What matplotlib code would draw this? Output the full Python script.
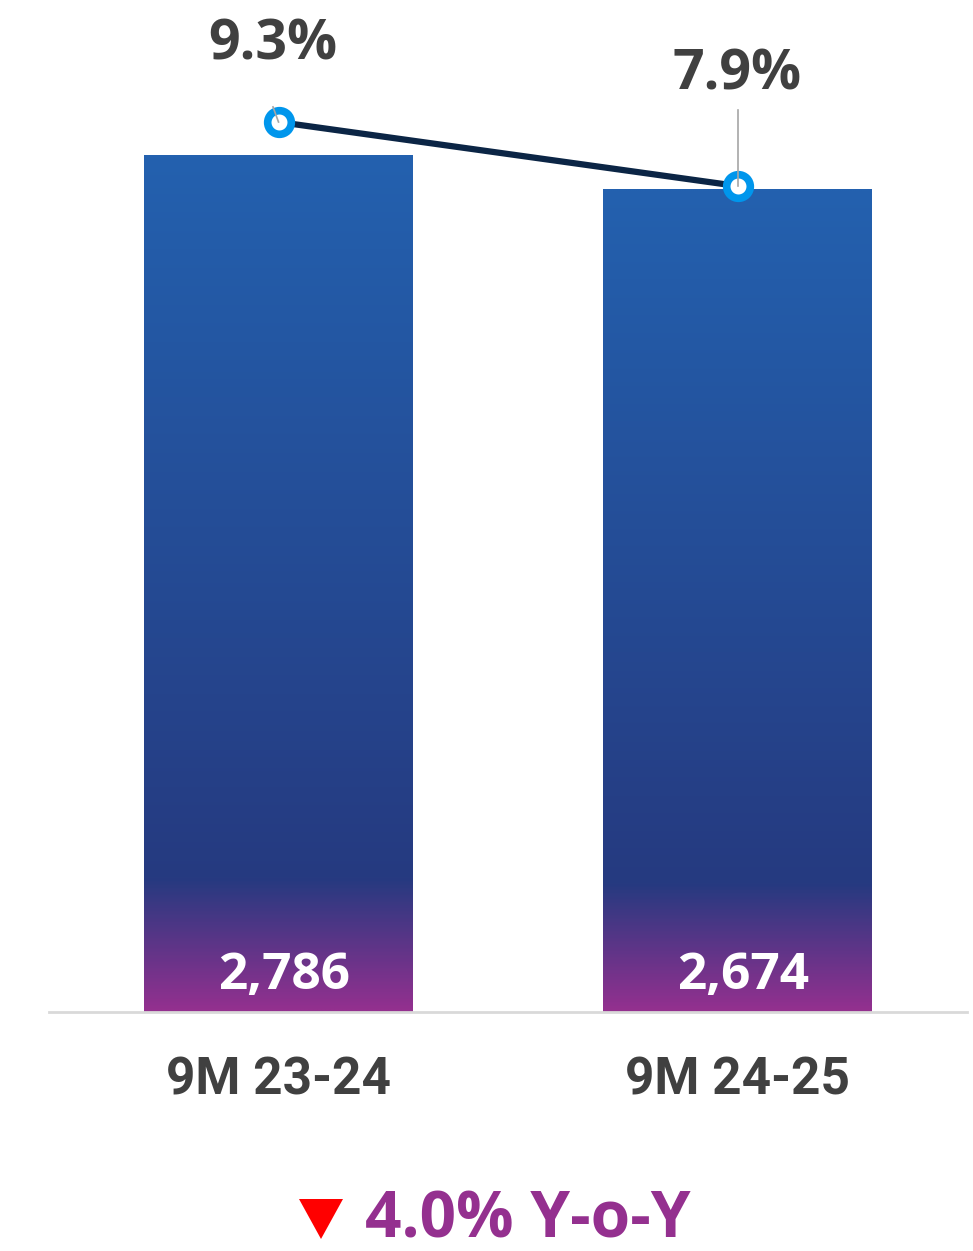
import numpy as np
import matplotlib
matplotlib.use("Agg")
import matplotlib.pyplot as plt
from matplotlib.colors import LinearSegmentedColormap
from matplotlib.patches import Polygon

categories = ["9M 23-24", "9M 24-25"]
values = [2786, 2674]
value_labels = ["2,786", "2,674"]
margins = [9.3, 7.9]
margin_labels = ["9.3%", "7.9%"]
yoy_text = "4.0% Y-o-Y"

W, H = 973, 1251
fig = plt.figure(figsize=(W / 100, H / 100), dpi=100)
ax_left, ax_right = 49 / W, 967 / W
ax_bottom = 1 - 1012 / H
ax_top = 1.0
ax = fig.add_axes([ax_left, ax_bottom, ax_right - ax_left, ax_top - ax_bottom])

x = np.arange(len(categories))
bars = ax.bar(x, values, width=0.584, color="none", edgecolor="none", zorder=2)
ymax = 1012 / (857 / 2786)

cmap = LinearSegmentedColormap.from_list(
    "g",
    [(0.0, "#94308F"), (0.154, "#263A80"), (1.0, "#2361AF")],
)
for b in bars:
    x0 = b.get_x()
    w = b.get_width()
    h = b.get_height()
    grad = np.linspace(0, 1, 512).reshape(-1, 1)
    im = ax.imshow(grad, aspect="auto", cmap=cmap, origin="lower",
                   extent=[x0, x0 + w, 0, h], zorder=2, interpolation="bilinear")
    im.set_clip_path(b)
ax.set_xlim(-0.5, 1.5)
ax.set_ylim(0, ymax)

for xi, v, lab in zip(x, values, value_labels):
    ax.text(xi + 0.013, 118, lab, ha="center", va="center", color="white",
            fontsize=37, fontweight="bold", family="Open Sans", zorder=5)

for s in ["top", "right", "left"]:
    ax.spines[s].set_visible(False)
ax.spines["bottom"].set_color("#d9d9d9")
ax.spines["bottom"].set_linewidth(2)
ax.set_yticks([])
ax.set_xticks(x)
ax.set_xticklabels(categories, fontsize=37, fontweight="bold", family="Roboto",
                   color="#404040")
ax.tick_params(axis="x", length=0, pad=31)

# secondary axis
ax2 = ax.twinx()
ppu = 64 / 1.4
zero_px = 122 + 9.3 * ppu
ax2.set_ylim((zero_px - 1012) / ppu, zero_px / ppu)
ax2.set_xlim(-0.5, 1.5)
ax2.axis("off")
ax2.plot(x, margins, color="#0B2545", lw=4.5, zorder=3,
         marker="o", markersize=17, markerfacecolor="white",
         markeredgecolor="#0096EC", markeredgewidth=5.5)

# leader lines and labels
ax2.plot([x[0] - 0.012, x[0]], [margins[0] + 0.33, margins[0]], color="#a6a6a6",
         lw=1.2, zorder=4)
ax2.plot([x[1], x[1]], [margins[1] + 1.67, margins[1]], color="#a6a6a6",
         lw=1.2, zorder=4)
ax2.text(x[0] - 0.012, margins[0] + 1.68, margin_labels[0], ha="center", va="center",
         fontsize=40, fontweight="bold", family="Open Sans", color="#404040")
ax2.text(x[1], margins[1] + 2.43, margin_labels[1], ha="center", va="center",
         fontsize=40, fontweight="bold", family="Open Sans", color="#404040")

# bottom YoY
tri = Polygon([[299 / W, 1 - 1199 / H], [343 / W, 1 - 1199 / H], [321 / W, 1 - 1239 / H]],
              closed=True, transform=fig.transFigure, facecolor="#FF0000",
              edgecolor="none")
fig.patches.append(tri)
fig.text(365 / W, 1 - 1237 / H, yoy_text, ha="left", va="baseline", color="#94308F",
         fontsize=46, fontweight="bold", family="Open Sans")

fig.savefig("out.png", dpi=100)
